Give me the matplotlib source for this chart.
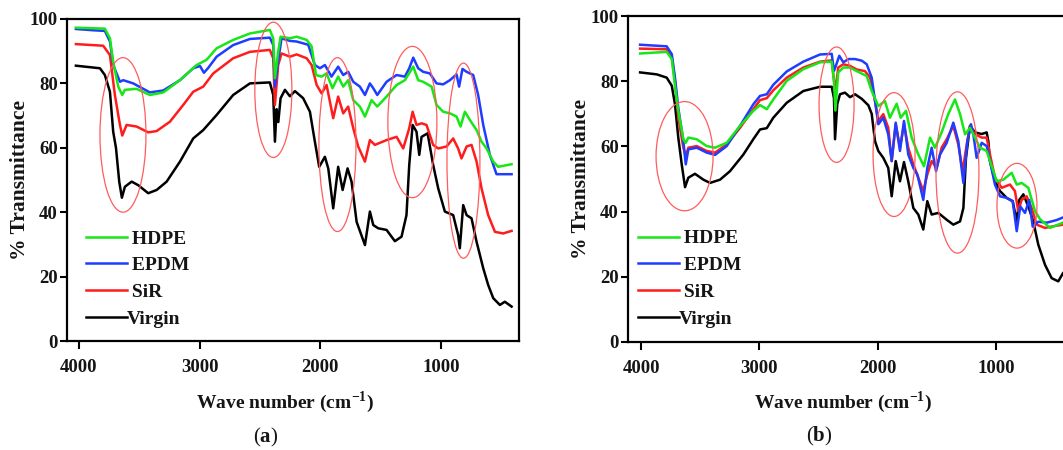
import matplotlib
matplotlib.use('Agg')
import matplotlib.pyplot as plt
from matplotlib.patches import Ellipse

# ---- panel (a) ----
A_VIRGIN_WN = [4025, 3826, 3785, 3743, 3716, 3693, 3666, 3644, 3619, 3563, 3509, 3426, 3356, 3273, 3163,
               3053, 2970, 2859, 2722, 2583, 2418, 2390, 2376, 2362, 2348, 2329, 2293, 2252, 2210, 2142,
               2086, 2045, 2009, 1962, 1934, 1893, 1852, 1815, 1774, 1741, 1699, 1630, 1589, 1561, 1520,
               1451, 1382, 1327, 1286, 1263, 1235, 1203, 1180, 1161, 1111, 1065, 1023, 968, 899, 858,
               844, 816, 788, 747, 705, 650, 609, 567, 512, 471, 415]
A_VIRGIN_T = [85.5, 84.7, 82.6, 77.4, 65, 60, 49.5, 44.5, 47.9, 49.5, 48.4, 45.9, 46.9, 49.5, 55.7,
              62.9, 65.5, 70.2, 76.4, 80, 80.3, 76.4, 61.9, 72, 68, 75.4, 78, 76, 77.6, 75.4,
              71.2, 61.9, 54.1, 57.2, 53.6, 41.2, 54.1, 46.9, 53.6, 49.5, 37, 29.8, 40.2, 36, 35,
              34.5, 31, 32.4, 39.1, 54.7, 67.1, 65, 57.8, 63.4, 64.5, 54.7, 47.4, 40.2, 39.1, 32.9,
              28.8, 42.2, 39.1, 38.1, 30.8, 22.6, 17.4, 13.3, 11.2, 12.2, 10.7]

A_SIR_WN = [4025, 3799, 3743, 3702, 3660, 3641, 3605, 3522, 3426, 3356, 3246, 3136, 3053, 2970, 2887,
            2722, 2583, 2418, 2390, 2376, 2349, 2321, 2252, 2196, 2113, 2072, 2030, 1989, 1948, 1893,
            1852, 1810, 1769, 1727, 1686, 1630, 1589, 1548, 1451, 1368, 1313, 1263, 1235, 1203, 1161,
            1120, 1065, 1023, 954, 899, 858, 830, 788, 747, 705, 664, 609, 553, 485, 415]
A_SIR_T = [92.2, 91.7, 88.8, 76.4, 67.1, 63.8, 67.1, 66.6, 64.8, 65.2, 68.1, 73.3, 77.4, 79, 83.1,
           87.8, 89.8, 90.4, 87.8, 73.3, 85.7, 89.3, 88.3, 89, 87.8, 85.7, 79.5, 76.9, 79.5, 69.2,
           75.9, 70.7, 72.8, 66.1, 60.4, 55.7, 62.4, 60.9, 62.4, 63.4, 59.8, 66.1, 71.2, 67.1, 67.6,
           67.1, 60.9, 59.8, 60.4, 62.9, 59.8, 56.7, 60.4, 60.9, 55.7, 47.4, 39.1, 33.9, 33.4, 34.2]

A_EPDM_WN = [4025, 3882, 3785, 3743, 3716, 3660, 3633, 3550, 3412, 3301, 3163, 3053, 2997, 2964, 2929,
             2859, 2722, 2583, 2418, 2390, 2376, 2349, 2321, 2252, 2196, 2100, 2045, 2003, 1962, 1907,
             1852, 1810, 1769, 1727, 1672, 1630, 1589, 1561, 1528, 1451, 1368, 1299, 1263, 1230, 1189,
             1148, 1092, 1037, 982, 926, 871, 850, 822, 788, 733, 692, 650, 595, 540, 415]
A_EPDM_T = [96.9, 96.5, 96.3, 93, 85.7, 80.5, 81, 80, 77.2, 77.8, 81, 84.7, 85.4, 83.3, 84.8,
            88.3, 91.9, 93.8, 94.2, 91.9, 79, 87, 94, 93.2, 93, 92, 85.7, 84.7, 85.7, 82.1,
            85.2, 82.6, 83.6, 80.5, 79, 76.4, 80, 78.5, 76.4, 80.5, 82.6, 82.1, 84.7, 88, 84.7,
            83.6, 83.1, 80, 79.7, 81, 82.8, 79, 84.5, 83.6, 82.6, 76.4, 67.1, 57.8, 51.8, 51.8]

A_HDPE_WN = [4025, 3785, 3743, 3716, 3674, 3641, 3619, 3522, 3412, 3301, 3163, 3025, 2943, 2859, 2722,
             2583, 2418, 2390, 2376, 2349, 2329, 2252, 2196, 2113, 2072, 2036, 1989, 1948, 1899, 1852,
             1810, 1769, 1727, 1672, 1630, 1575, 1528, 1451, 1368, 1299, 1230, 1189, 1148, 1078, 1037,
             982, 926, 871, 838, 802, 760, 705, 664, 622, 567, 526, 415]
A_HDPE_T = [97.3, 97, 94, 86.7, 79, 76.4, 78, 78.3, 76.4, 77.2, 81, 85.7, 87.3, 90.9, 93.5,
            95.5, 96.6, 94, 81.6, 89.8, 94.5, 94, 94.5, 93.5, 91.5, 82.6, 82.1, 83.1, 78.5, 82.1,
            79, 81, 74.8, 72.8, 69.7, 74.8, 72.8, 75.9, 79.5, 81, 85.2, 81, 80.5, 79, 73.3,
            71.2, 70.7, 69.7, 66.6, 71.2, 68.6, 65.5, 61.9, 59.8, 55.7, 54.1, 54.9]

# ---- panel (b) ----
B_VIRGIN_WN = [4008, 3867, 3783, 3740, 3713, 3685, 3656, 3628, 3600, 3544, 3473, 3417, 3332, 3248, 3135,
               3051, 2994, 2937, 2882, 2768, 2628, 2487, 2388, 2369, 2360, 2341, 2318, 2276, 2233, 2191,
               2134, 2078, 2050, 2022, 1994, 1952, 1910, 1881, 1847, 1811, 1777, 1741, 1698, 1656, 1614,
               1580, 1543, 1487, 1416, 1360, 1303, 1275, 1253, 1219, 1177, 1120, 1078, 1064, 1050, 1008,
               965, 909, 858, 824, 802, 768, 726, 684, 642, 585, 529, 473, 433]
B_VIRGIN_T = [82.7, 82.1, 81.1, 78.6, 72.9, 62.7, 54.5, 47.5, 50.4, 51.6, 49.8, 48.8, 49.8, 52.4, 57.5,
              62.2, 65.2, 65.6, 68.8, 73.4, 77, 78.3, 78.3, 74.8, 62.2, 73, 76, 76.5, 75.1, 76,
              74.6, 72.6, 70, 61.6, 58.6, 56.5, 53.4, 44.7, 55.5, 49.3, 55.2, 49.3, 41.1, 39.1, 34.5,
              43.2, 39.1, 39.6, 37.5, 36, 37, 41.1, 56.5, 66.3, 64.3, 63.8, 64.3, 61.6, 55.5, 49.3,
              46.3, 44.2, 43.2, 37, 43.6, 45.3, 41.6, 37, 29.9, 23.7, 19.6, 18.6, 21.1]

B_SIR_WN = [4008, 3783, 3740, 3713, 3685, 3642, 3622, 3600, 3529, 3445, 3374, 3276, 3163, 3051, 2994,
            2937, 2882, 2768, 2628, 2487, 2388, 2369, 2357, 2333, 2290, 2233, 2177, 2107, 2064, 2022,
            1994, 1952, 1910, 1881, 1847, 1811, 1777, 1741, 1698, 1656, 1614, 1580, 1543, 1501, 1459,
            1416, 1360, 1318, 1281, 1247, 1219, 1177, 1120, 1078, 1050, 1008, 951, 881, 839, 811,
            782, 740, 698, 655, 585, 515, 433]
B_SIR_T = [90, 89.8, 87.3, 80.1, 68.8, 59.6, 57, 59.6, 60.1, 58.6, 58.1, 60.6, 65.7, 71.4, 74.2,
           74.8, 77.2, 81.1, 84.2, 86, 86.4, 80.2, 77.2, 84.2, 85.2, 84.7, 83.6, 83.1, 81.1, 74,
           67.8, 69.9, 65.7, 55.5, 66.8, 59.6, 66.8, 59.6, 54.5, 50.4, 46.3, 51.4, 55.5, 53.4, 59.6,
           62.2, 66.3, 60.6, 52.4, 60.6, 66.3, 63.8, 62.7, 62.7, 57.5, 50.4, 47.3, 48.3, 46.3, 40.2,
           43.6, 44.7, 41.1, 36, 35, 35.5, 36]

B_EPDM_WN = [4008, 3783, 3740, 3713, 3685, 3642, 3622, 3600, 3529, 3445, 3374, 3276, 3163, 3051, 2994,
             2937, 2882, 2768, 2628, 2487, 2388, 2369, 2357, 2324, 2290, 2247, 2191, 2134, 2092, 2050,
             2022, 1994, 1952, 1910, 1881, 1847, 1811, 1777, 1741, 1698, 1664, 1614, 1580, 1543, 1506,
             1473, 1416, 1360, 1318, 1275, 1241, 1211, 1191, 1163, 1120, 1078, 1050, 1008, 965, 909,
             858, 824, 794, 754, 718, 689, 642, 571, 487, 433]
B_EPDM_T = [91.2, 90.7, 88.3, 81.1, 71.8, 61.6, 54.5, 59.1, 59.6, 58.1, 57.4, 60.1, 66.3, 72.9, 75.5,
            76, 78.9, 83, 86, 88.2, 88.4, 83.2, 84.3, 87.8, 85.8, 86.8, 86.8, 86.3, 85.2, 81.1,
            74, 66.8, 68.8, 63.7, 55.5, 67.3, 58.6, 67.8, 57.5, 53.4, 51.4, 43.6, 53.4, 59.6, 52.4,
            57.5, 61.1, 67.3, 61.6, 48.8, 61.6, 66.8, 63.8, 56.5, 61.1, 60.1, 55.5, 48.3, 44.7, 44.2,
            43.2, 34, 41.6, 39.6, 43.6, 35.4, 36.9, 36.6, 37.4, 38.2]

B_HDPE_WN = [4008, 3783, 3740, 3713, 3685, 3642, 3622, 3600, 3529, 3445, 3374, 3276, 3163, 3051, 2994,
             2937, 2882, 2768, 2628, 2487, 2388, 2369, 2357, 2333, 2290, 2233, 2177, 2092, 2050, 1994,
             1938, 1896, 1839, 1805, 1760, 1712, 1656, 1608, 1557, 1515, 1459, 1403, 1346, 1303, 1261,
             1219, 1177, 1134, 1078, 1036, 993, 937, 867, 824, 782, 726, 670, 627, 543, 433]
B_HDPE_T = [88.5, 89, 86.8, 78.6, 70.8, 62.2, 61.1, 62.7, 62.2, 60.1, 59.6, 61.1, 66.3, 70.9, 72.7,
            71.4, 74.4, 80.1, 83.7, 85.8, 86, 80.2, 71, 82.7, 84.2, 84.2, 83.1, 81.6, 77, 72.4,
            73.9, 68.8, 73.1, 68.8, 70.9, 62.7, 57.5, 53.9, 62.7, 59.6, 64.3, 69.9, 74.4, 69.9, 63.7,
            65.7, 62.7, 59.6, 58.6, 54, 49.3, 49.8, 51.9, 48.3, 48.8, 47.3, 40.2, 37.7, 35, 36.6]

# highlighted regions: (centre wn, centre T, width, height)
A_CIRCLES = [(3635, 64, 381, 48), (2389, 78, 307, 42), (1858, 61, 307, 54),
             (1237, 68, 406, 47), (814, 56, 273, 60.6)]
B_CIRCLES = [(3632, 57, 482, 33.5), (2347, 72.8, 296, 35.4), (1861, 57.5, 355, 38),
             (1325, 52, 363, 49.5), (822, 41.8, 338, 26)]

LEGEND = ['HDPE', 'EPDM', 'SiR', 'Virgin']
COLORS = {'HDPE': '#17e617', 'EPDM': '#1f3cff', 'SiR': '#ff1c1c', 'Virgin': '#000000'}
TXT = '#151515'

plt.rcParams['font.family'] = ['Liberation Serif', 'DejaVu Serif']
plt.rcParams['mathtext.fontset'] = 'custom'
plt.rcParams['mathtext.rm'] = 'Liberation Serif'
plt.rcParams['mathtext.bf'] = 'Liberation Serif:bold'


def panel(ax, series, circles, xlim, leg_anchor):
    handles = {}
    for name in ['Virgin', 'SiR', 'EPDM', 'HDPE']:
        wn, t = series[name]
        handles[name], = ax.plot(wn, t, color=COLORS[name], lw=1.8)
    for cx, cy, w, h in circles:
        ax.add_patch(Ellipse((cx, cy), w, h, fill=False, ec='#ff5c5c', lw=0.9, zorder=5))
    ax.set_xlim(*xlim)
    ax.set_ylim(0, 100)
    ax.set_xticks([4000, 3000, 2000, 1000])
    ax.set_yticks(range(0, 101, 20))
    ax.tick_params(axis='x', direction='out', length=6, width=1.5, pad=7,
                   labelsize=13.5, labelcolor=TXT)
    ax.tick_params(axis='y', direction='out', length=5, width=1.5, pad=1.5,
                   labelsize=13.5, labelcolor=TXT)
    for lab in ax.get_xticklabels() + ax.get_yticklabels():
        lab.set_fontweight('bold')
    for s in ax.spines.values():
        s.set_linewidth(1.6)
    labels = [' HDPE', ' EPDM', ' SiR', 'Virgin']
    ax.legend([handles[n] for n in LEGEND], labels, loc='upper left',
              bbox_to_anchor=leg_anchor, frameon=False, borderpad=0, borderaxespad=0,
              handlelength=2.1, handletextpad=0.0, labelspacing=0.47,
              prop={'weight': 'bold', 'size': 14}, labelcolor=TXT)
    ax.set_ylabel('% Transmittance', fontsize=15.5, fontweight='bold', color=TXT, labelpad=0)


fig = plt.figure(figsize=(10.63, 4.5), dpi=100)
ax_a = fig.add_axes([0.063, 0.2422, 0.4252, 0.7156])
ax_b = fig.add_axes([0.5908, 0.24, 0.4252, 0.7244])

panel(ax_a,
      {'Virgin': (A_VIRGIN_WN, A_VIRGIN_T), 'SiR': (A_SIR_WN, A_SIR_T),
       'EPDM': (A_EPDM_WN, A_EPDM_T), 'HDPE': (A_HDPE_WN, A_HDPE_T)},
      A_CIRCLES, (4099, 354), (0.042, 0.345))
panel(ax_b,
      {'Virgin': (B_VIRGIN_WN, B_VIRGIN_T), 'SiR': (B_SIR_WN, B_SIR_T),
       'EPDM': (B_EPDM_WN, B_EPDM_T), 'HDPE': (B_HDPE_WN, B_HDPE_T)},
      B_CIRCLES, (4110, 289), (0.022, 0.344))

xlab = r'Wave number (cm$^{\mathbf{-1}}$)'
fig.text(285 / 1063, 1 - 402 / 450, xlab, ha='center', va='center', fontsize=14,
         fontweight='bold', color=TXT)
fig.text(843 / 1063, 1 - 402 / 450, xlab, ha='center', va='center', fontsize=14,
         fontweight='bold', color=TXT)
fig.text(266 / 1063, 1 - 437 / 450, r'($\mathbf{a}$)', ha='center', va='center', fontsize=15,
         color=TXT)
fig.text(819 / 1063, 1 - 436 / 450, r'($\mathbf{b}$)', ha='center', va='center', fontsize=15,
         color=TXT)

fig.savefig('out.png', dpi=100)
